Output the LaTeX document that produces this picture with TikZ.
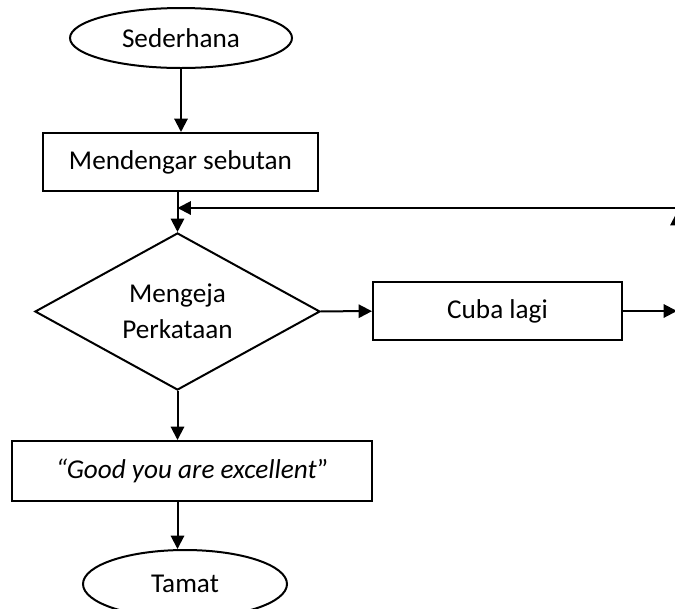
\documentclass[tikz,border=0pt]{standalone}
\usepackage{fontspec}
\setmainfont{Carlito}
\usetikzlibrary{shapes.geometric, arrows.meta}

\begin{document}
\begin{tikzpicture}[x=0.375pt, y=-0.375pt, line width=0.75pt,
    every node/.style={font=\fontsize{10.2}{13.5}\selectfont},
    terminal/.style={draw, ellipse, inner sep=0pt},
    process/.style={draw, rectangle, inner sep=0pt},
    decision/.style={draw, diamond, aspect=1.8, inner sep=0pt, align=center},
    flow/.style={-{Triangle[length=5pt, width=5pt]}}]

    \useasboundingbox (0,0) rectangle (675,608);

    \node[terminal, minimum width=83.25pt, minimum height=22.5pt] (sederhana) at (181,38) {Sederhana};
    \node[process, minimum width=103.1pt, minimum height=21.75pt] (mendengar) at (180.5,162) {Mendengar sebutan};
    \node[decision, minimum width=106.9pt, minimum height=58.9pt] (mengeja) at (177.5,311.5) {Mengeja\\Perkataan};
    \node[process, minimum width=93.4pt, minimum height=22.1pt] (cuba) at (497.5,311) {Cuba lagi};
    \node[process, minimum width=135pt, minimum height=22.5pt] (good) at (192,471) {\textit{“Good you are excellent}”};
    \node[terminal, minimum width=76.5pt, minimum height=25.5pt] (tamat) at (185,584) {Tamat};

    \coordinate (out) at (677,311);
    \coordinate (uptip) at (677,212);
    \coordinate (corner) at (677,208);
    \coordinate (join) at (177.5,208);

    \draw[flow] (sederhana.south) -- (sederhana.south |- mendengar.north);
    \draw[flow] (mengeja.north |- mendengar.south) -- (mengeja.north);
    \draw[flow] (mengeja) -- (cuba);
    \draw[flow] (mengeja.south) -- (mengeja.south |- good.north);
    \draw[flow] (mengeja.south |- good.south) -- (mengeja.south |- tamat.north);

    % cuba lagi goes back up
    \draw[flow] (cuba) -- (out);
    \draw[flow] (out) -- (uptip);
    \draw[flow] (corner) -- (join);

\end{tikzpicture}
\end{document}
